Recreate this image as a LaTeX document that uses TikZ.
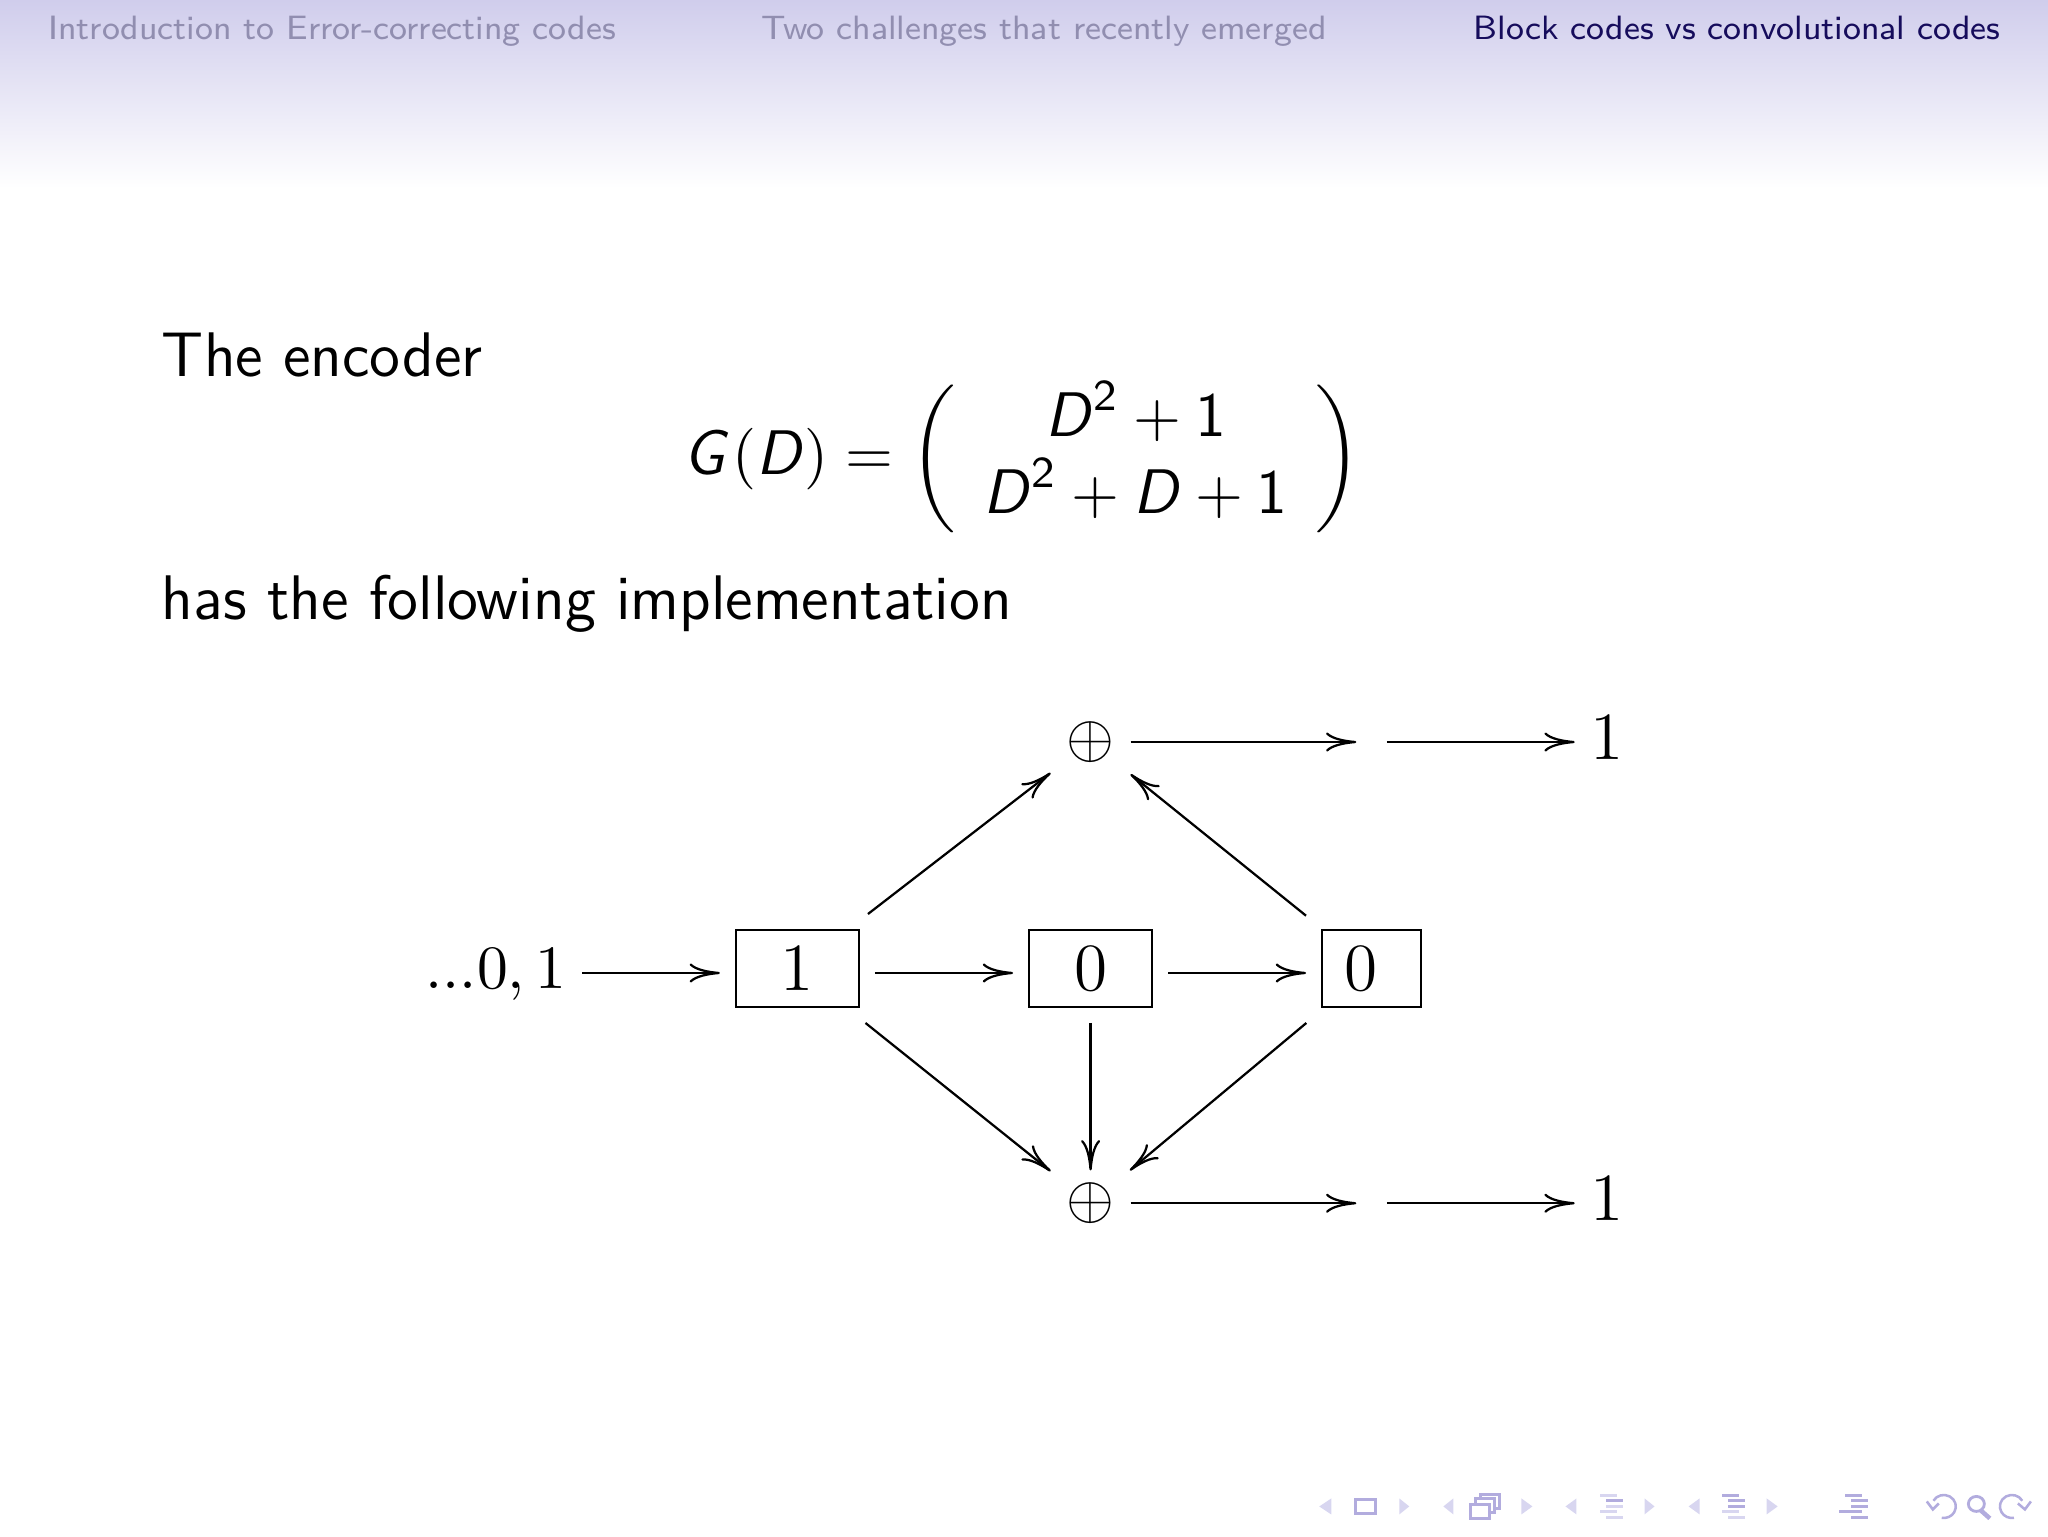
\documentclass[tikz,border=0pt]{standalone}
\usepackage{fontspec}
\usepackage{amsmath}
\usetikzlibrary{arrows.meta, calc}

\definecolor{hdrtop}{RGB}{208,205,236}
\definecolor{hdron}{RGB}{22,12,92}
\definecolor{hdroff}{RGB}{145,142,176}
\definecolor{navfaint}{RGB}{216,214,240}
\definecolor{navdark}{RGB}{178,172,222}

\newcommand{\vD}{\text{\sffamily\slshape D\/}}
\newcommand{\vG}{\text{\sffamily\slshape G\/}}
\newcommand{\vn}[1]{\text{\sffamily #1}}

\tikzset{
  cell/.style={draw, rectangle, minimum height=0.481cm, inner sep=0pt, outer sep=0.1cm, font=\fontsize{11.5}{14}\selectfont},
  adder/.style={rectangle, minimum width=0.5cm, minimum height=0.41cm, inner sep=0pt, outer sep=0pt, font=\fontsize{10.6}{12}\selectfont},
  relay/.style={rectangle, minimum width=0.19cm, inner sep=0pt, outer sep=0pt},
  plain/.style={inner sep=0pt, outer sep=0.1cm, font=\fontsize{11.5}{14}\selectfont},
  wire/.style={draw, -{Computer Modern Rightarrow[length=5.4pt, width=6.8pt/2]}},
  hdr/.style={anchor=base west, inner sep=0pt, font=\fontsize{6}{8}\sffamily},
  body/.style={anchor=base west, inner sep=0pt, font=\fontsize{11.2}{14}\sffamily}
}

\begin{document}
\begin{tikzpicture}
	\useasboundingbox (0,0) rectangle (12.8,9.6);
	\shade[top color=hdrtop, bottom color=white] (0,8.42) rectangle (12.8,9.6);

	% header
	\node[hdr, text=hdroff] (h1) at (0.295,9.356) {Introduction to Error-correcting codes};
	\node[hdr, text=hdroff] (h2) at (4.755,9.356) {Two challenges that recently emerged};
	\node[hdr, text=hdron] (h3) at (9.205,9.356) {Block codes vs convolutional codes};

	% text
	\node[body] (t1) at (1.005,7.245) {The encoder};
	\node[body] (t2) at (1.005,5.726) {has the following implementation};
	\node[inner sep=0pt, font=\fontsize{11.2}{14}\sffamily] (eqn) at (6.39,6.732)
		{$\vG\mskip1mu(\vD)=\left(\begin{array}{c}\vD^{\vn{2}}+\vn{1}\\[-0.46pt] \vD^{\vn{2}}+\vD+\vn{1}\end{array}\right)$};

	% encoder
	\node[cell, minimum width=0.769cm] at (4.984,3.547) (boxa) {$1$};
	\node[cell, minimum width=0.769cm] at (6.816,3.547) (boxb) {$0$};
	\node[cell, minimum width=0.619cm] at (8.572,3.547) (boxc) {$0$\kern3.7pt};
	\node[plain, anchor=base, font=\fontsize{10.8}{14}\selectfont] at (3.10,3.421) (inp) {$...0,1$};
	\node[adder] at (6.816,4.9625) (addt) {$\oplus$};
	\node[adder] at (6.816,2.08) (addb) {$\oplus$};
	\node[relay] at (8.572,4.9625) (relt) {};
	\node[relay] at (8.572,2.08) (relb) {};
	\node[plain] at (10.045,4.99) (outt) {$1$};
	\node[plain] at (10.045,2.105) (outb) {$1$};

	\draw[wire] ([yshift=-0.028cm]inp.east |- boxa.west) -- ([yshift=-0.028cm]boxa.west);
	\draw[wire] ([yshift=-0.028cm]boxa.east) -- ([yshift=-0.028cm]boxb.west);
	\draw[wire] ([yshift=-0.028cm]boxb.east) -- ([yshift=-0.028cm]boxc.west);
	\draw[wire] (boxa) -- (addt);
	\draw[wire] (boxc) -- (addt);
	\draw[wire] (boxa) -- (addb);
	\draw[wire] (boxb) -- (addb);
	\draw[wire] (boxc) -- (addb);
	\draw[wire] (addt) -- (relt);
	\draw[wire] (addb) -- (relb);
	\draw[wire] (relt) -- (relt -| outt.west);
	\draw[wire] (relb) -- (relb -| outb.west);

	% navigation symbols
	\begin{scope}[x=0.00625cm, y=-0.00625cm, yshift=9.6cm]
		\foreach \xa/\xb in {1330/1318, 1452/1442, 1575/1564, 1698/1687}
			\fill[navfaint] (\xa,1497) -- (\xa,1513) -- (\xb,1505) -- cycle;
		\foreach \xa/\xb in {1398/1408, 1520/1531, 1643/1653, 1765/1776}
			\fill[navfaint] (\xa,1497) -- (\xa,1513) -- (\xb,1505) -- cycle;
		\draw[navdark, line width=0.5pt] (1354,1498) rectangle (1374,1512);
		\draw[navdark, line width=0.4pt, fill=white] (1479,1493) rectangle (1498,1507);
		\draw[navdark, line width=0.4pt, fill=white] (1474,1497) rectangle (1493,1511);
		\draw[navdark, line width=0.45pt, fill=white] (1469,1503) rectangle (1488,1517);
		\foreach \xo/\ca/\cb/\cc/\cd/\ce in {1598/navfaint/navdark/navfaint/navfaint/navfaint,
				1720/navdark/navdark/navdark/navfaint/navfaint,
				1843/navdark/navdark/navdark/navdark/navdark} {
			\fill[\ca] (\xo,1492.5) rectangle +(17,3);
			\fill[\cb] (\xo+6,1498) rectangle +(17,3);
			\fill[\cc] (\xo+6,1503.5) rectangle +(17,3);
			\fill[\cd] (\xo,1509) rectangle +(17,3);
			\fill[\ce] (\xo+6,1514.5) rectangle +(17,3);
		}
		\fill[navdark] (1837,1509) rectangle +(6,3);
		% back, search, forward
		\draw[navdark, line width=0.45pt] (1931.6,1499.3) arc[start angle=-150, end angle=100, x radius=12, y radius=11.5];
		\draw[navdark, line width=0.45pt] (1925,1500) -- (1931,1508) -- (1937,1502);
		\draw[navdark, line width=0.5pt] (1974.5,1502.5) circle[x radius=8, y radius=7.5];
		\draw[navdark, line width=0.8pt] (1979,1509) -- (1988,1517);
		\draw[navdark, line width=0.45pt] (2020.4,1499.3) arc[start angle=-30, end angle=-280, x radius=12, y radius=11.5];
		\draw[navdark, line width=0.45pt] (2016,1502) -- (2023,1508) -- (2029,1500);
	\end{scope}
\end{tikzpicture}
\end{document}
